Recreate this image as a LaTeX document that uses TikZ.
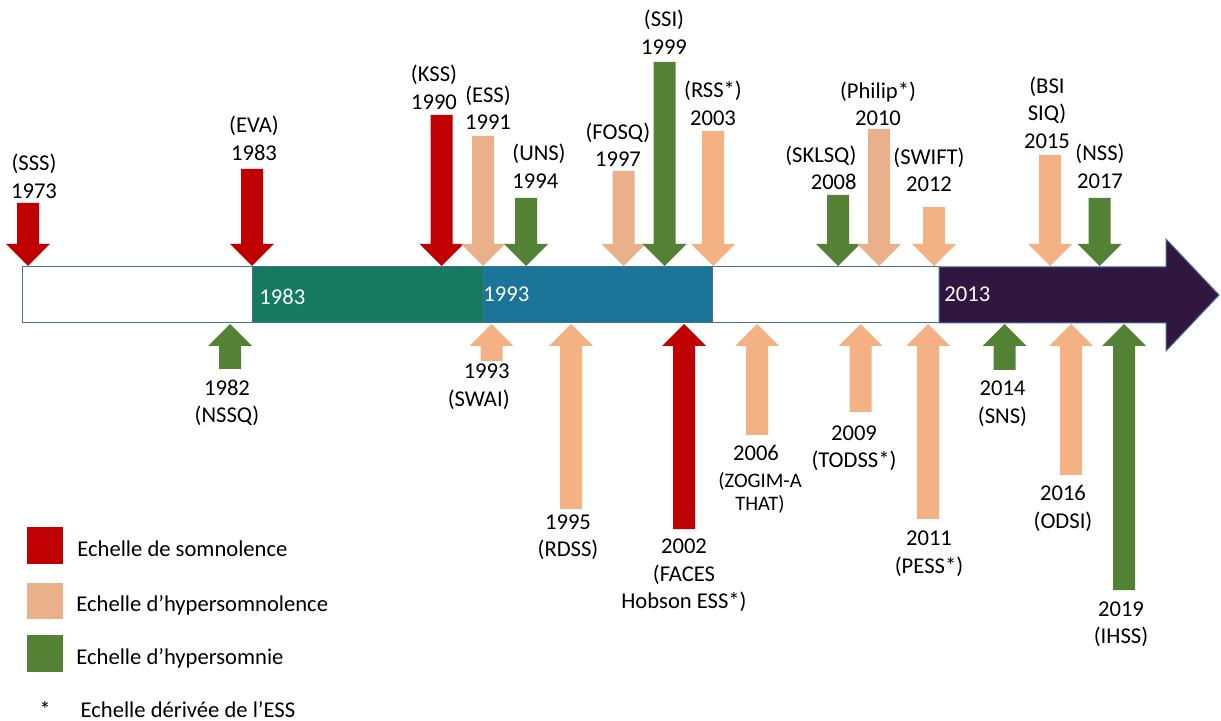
\documentclass[tikz,border=0pt]{standalone}
\usepackage{fontspec}
\setmainfont{Carlito}
\definecolor{somno}{HTML}{C00000}
\definecolor{hyperA}{HTML}{F4B183}
\definecolor{hyperB}{HTML}{EAB08A}
\definecolor{hypersom}{HTML}{548235}
\definecolor{eraA}{HTML}{167A5F}
\definecolor{eraB}{HTML}{1B7598}
\definecolor{eraC}{HTML}{31163F}
\definecolor{barline}{HTML}{41719C}
% block arrows: x of the shaft, free end, colour
\newcommand{\downarr}[3]{\fill[#3] (#1-11,#2) -- (#1+11,#2) -- (#1+11,244) -- (#1+22,244) -- (#1,266) -- (#1-22,244) -- (#1-11,244) -- cycle;}
\newcommand{\uparr}[3]{\fill[#3] (#1-11,#2) -- (#1+11,#2) -- (#1+11,346) -- (#1+22,346) -- (#1,324) -- (#1-22,346) -- (#1-11,346) -- cycle;}

\begin{document}
\begin{tikzpicture}[x=0.5pt,y=-0.5pt,
		lab/.style={align=center,inner sep=0pt,font=\fontsize{11.3}{13.75}\selectfont},
		era/.style={draw=barline,line width=0.5pt},
		keytext/.style={anchor=base west,inner sep=0pt,font=\fontsize{11.3}{13.75}\selectfont}]
		\useasboundingbox (0,0) rectangle (1221,721);
		% timeline
		\draw[era,fill=white] (22,267) rectangle (252,323);
		\draw[era,fill=eraA] (252,267) rectangle (483,323);
		\draw[era,fill=eraB] (483,267) rectangle (712,323);
		\draw[era,fill=white] (712,267) rectangle (939,323);
		\draw[era,fill=eraC] (939,267) -- (1166,267) -- (1166,239) -- (1219,295) -- (1166,351) -- (1166,323) -- (939,323) -- cycle;
		\node[keytext,text=white] (y83) at (259,305) {1983};
		\node[keytext,text=white] (y93) at (483,302) {1993};
		\node[keytext,text=white] (y13) at (944,302) {2013};
		% above the line
		\downarr{28}{203}{somno}
		\downarr{252}{169}{somno}
		\downarr{441.5}{115}{somno}
		\downarr{483}{136}{hyperB}
		\downarr{526}{198}{hypersom}
		\downarr{623.5}{171}{hyperB}
		\downarr{664.5}{62}{hypersom}
		\downarr{713}{131}{hyperA}
		\downarr{838}{195}{hypersom}
		\downarr{879}{129}{hyperB}
		\downarr{934}{207}{hyperA}
		\downarr{1050}{155}{hyperA}
		\downarr{1099.5}{198}{hypersom}
		\node[lab] (sss) at (34,176.5) {(SSS)\\1973};
		\node[lab] (eva) at (254,138.5) {(EVA)\\1983};
		\node[lab] (kss) at (434,87.5) {(KSS)\\1990};
		\node[lab] (ess) at (488,107.5) {(ESS)\\1991};
		\node[lab,align=left,anchor=west] (uns) at (512,166) {(UNS)\\1994};
		\node[lab] (fosq) at (618,144.5) {(FOSQ)\\1997};
		\node[lab] (ssi) at (664,32) {(SSI)\\1999};
		\node[lab] (rss) at (713,103.5) {(RSS*)\\2003};
		\node[lab,align=right,anchor=east] (sklsq) at (857,168) {(SKLSQ)\\2008};
		\node[lab] (philip) at (878,104) {(Philip*)\\2010};
		\node[lab] (swift) at (929,170) {(SWIFT)\\2012};
		\node[lab] (bsi) at (1047,112.7) {(BSI\\SIQ)\\2015};
		\node[lab] (nss) at (1100,166.5) {(NSS)\\2017};
		% below the line
		\uparr{230}{369}{hypersom}
		\uparr{491.5}{361}{hyperA}
		\uparr{571}{509}{hyperA}
		\uparr{684}{529}{somno}
		\uparr{757}{435}{hyperA}
		\uparr{860.5}{412}{hyperA}
		\uparr{928}{519}{hyperA}
		\uparr{1004.5}{370}{hypersom}
		\uparr{1071}{475}{hyperA}
		\uparr{1124}{590}{hypersom}
		\node[lab] (nssq) at (227,403) {1982\\(NSSQ)};
		\node[lab,align=right,anchor=east] (swai) at (510,386.5) {1993\\(SWAI)};
		\node[lab] (rdss) at (568,537) {1995\\(RDSS)};
		\node[lab] (faces) at (684,575.3) {2002\\(FACES\\Hobson ESS*)};
		\node[lab] (zogim) at (756,453) {2006};
		\node[lab,font=\fontsize{10.3}{11.5}\selectfont] (zogimname) at (760,492.5) {(ZOGIM-A\\THAT)};
		\node[lab] (todss) at (854,448) {2009\\(TODSS*)};
		\node[lab] (pess) at (929,553.5) {2011\\(PESS*)};
		\node[lab] (sns) at (1002.5,403.5) {2014\\(SNS)};
		\node[lab] (odsi) at (1063,508.5) {2016\\(ODSI)};
		\node[lab] (ihss) at (1121,624) {2019\\(IHSS)};
		% key
		\fill[somno] (27,527) rectangle (63,564);
		\fill[hyperB] (27,583) rectangle (63,619);
		\fill[hypersom] (27,635) rectangle (63,672);
		\node[keytext] (ksomno) at (77,556) {Echelle de somnolence};
		\node[keytext] (khyper) at (76,611) {Echelle d’hypersomnolence};
		\node[keytext] (khypersom) at (76,664) {Echelle d’hypersomnie};
		\node[keytext] (note) at (39,717) {*\hspace{15pt}Echelle dérivée de l’ESS};
		\end{tikzpicture}
\end{document}
